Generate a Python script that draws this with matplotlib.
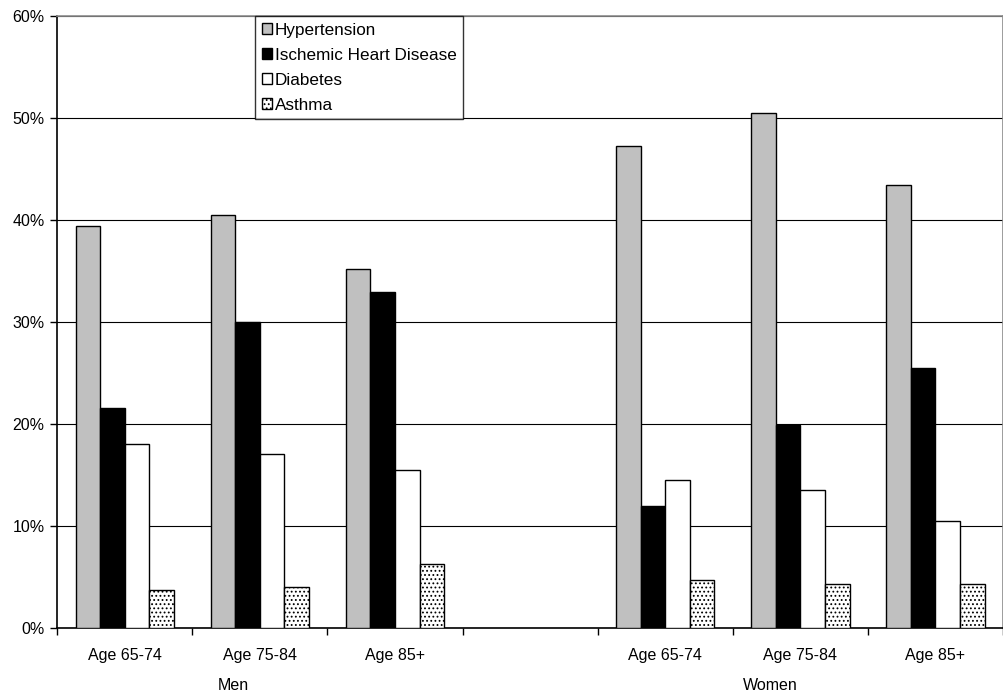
import matplotlib
matplotlib.use("Agg")
import matplotlib.pyplot as plt
import numpy as np
from matplotlib.ticker import FuncFormatter

plt.rcParams["font.family"] = ["Liberation Sans", "DejaVu Sans"]
plt.rcParams["hatch.linewidth"] = 0.8

categories = ["Age 65-74", "Age 75-84", "Age 85+", "", "Age 65-74", "Age 75-84", "Age 85+"]
groups = ["Men", "Women"]
series = ["Hypertension", "Ischemic Heart Disease", "Diabetes", "Asthma"]

# percent values, None for the empty spacer slot
hypertension = [39.4, 40.5, 35.2, None, 47.3, 50.5, 43.4]
ischemic = [21.6, 30.0, 32.9, None, 12.0, 19.9, 25.5]
diabetes = [18.0, 17.1, 15.5, None, 14.5, 13.5, 10.5]
asthma = [3.7, 4.0, 6.3, None, 4.7, 4.3, 4.3]

values = [hypertension, ischemic, diabetes, asthma]
colors = ["#c0c0c0", "#000000", "#ffffff", "#ffffff"]
hatches = [None, None, None, "...."]

fig = plt.figure(figsize=(10.04, 6.94), dpi=100)
ax = fig.add_axes([0.057, 0.095, 0.942, 0.882])

x = np.arange(len(categories))
width = 0.182
for i, (name, vals) in enumerate(zip(series, values)):
    xs = [xi for xi, v in zip(x, vals) if v is not None]
    hs = [v for v in vals if v is not None]
    ax.bar(np.array(xs) + (i - 1.5) * width, hs, width, color=colors[i],
           edgecolor="black", linewidth=1.0, hatch=hatches[i], label=name, zorder=3)

ax.set_xlim(-0.5, len(categories) - 0.5)
ax.set_ylim(0, 60)
ax.set_yticks(np.arange(0, 61, 10))
ax.yaxis.set_major_formatter(FuncFormatter(lambda v, _: f"{v:.0f}%"))
ax.yaxis.grid(True, color="black", linewidth=0.8, zorder=0)

ax.set_xticks(np.arange(len(categories) + 1) - 0.5)
ax.set_xticklabels([])
ax.set_xticks(x, minor=True)
ax.set_xticklabels(categories, minor=True)
ax.tick_params(axis="x", which="minor", length=0, pad=14, labelsize=11.5)
ax.tick_params(axis="x", which="major", direction="out", length=5, width=1)
ax.tick_params(axis="y", direction="out", length=5, width=1, labelsize=11.5, pad=4)

for s in ["left", "bottom"]:
    ax.spines[s].set_color("black")
    ax.spines[s].set_linewidth(1.2)
for s in ["top", "right"]:
    ax.spines[s].set_color("#8c8c8c")
    ax.spines[s].set_linewidth(1.2)

ax.text(0.186, -0.082, groups[0], transform=ax.transAxes, ha="center", va="top", fontsize=11.5)
ax.text(0.754, -0.082, groups[1], transform=ax.transAxes, ha="center", va="top", fontsize=11.5)

leg = ax.legend(loc="upper left", bbox_to_anchor=(0.209, 1.0), frameon=True, fancybox=False,
                edgecolor="black", fontsize=12.3, handlelength=0.6, handleheight=0.6,
                handletextpad=0.15, labelspacing=0.58, borderpad=0.4, borderaxespad=0)
leg.get_frame().set_linewidth(1.0)
leg.set_zorder(5)

fig.savefig("out.png", dpi=100, facecolor="white")
